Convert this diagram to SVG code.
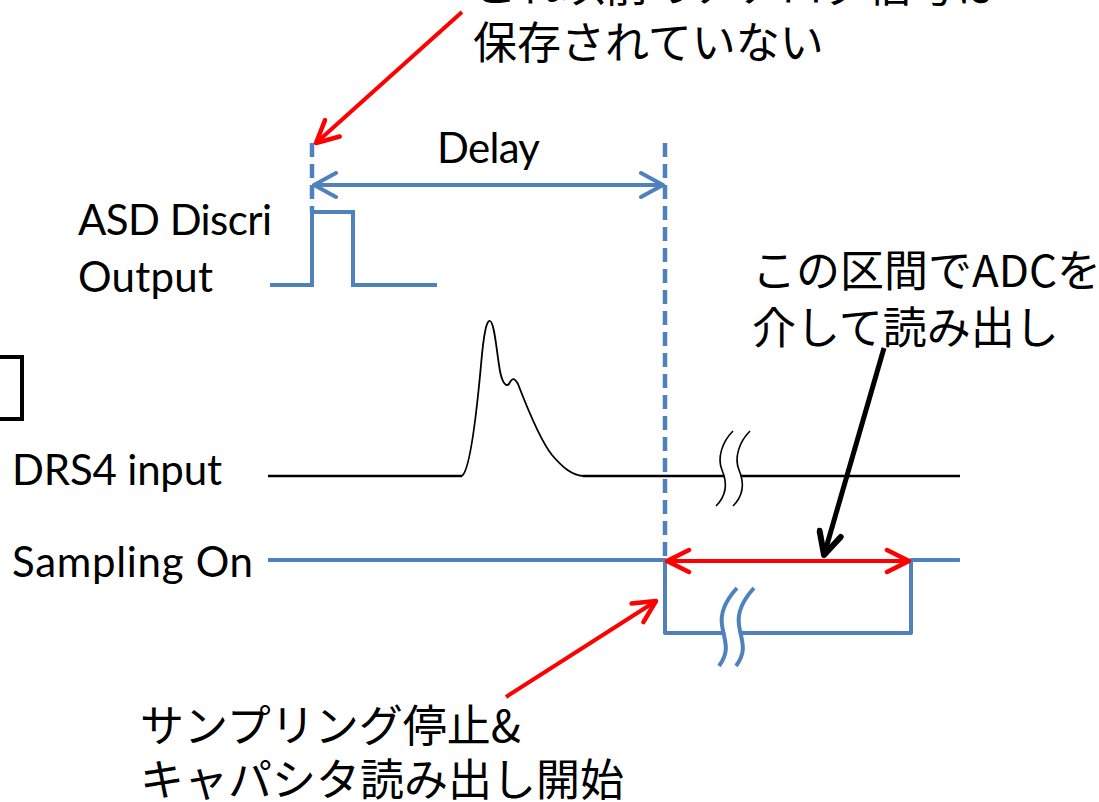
<svg xmlns="http://www.w3.org/2000/svg" width="1099" height="802" viewBox="0 0 1099 802">
<style>
.lat{font-family:Lato,"Liberation Sans",sans-serif;font-size:42px;fill:#000}
.jp{font-family:"Noto Sans CJK JP",sans-serif;font-size:44px;fill:#000}
.blue{stroke:#4F81BD;stroke-width:4;fill:none}
.dash{stroke:#4F81BD;stroke-width:4.5;fill:none;stroke-dasharray:14,7}
.red{stroke:#FF0000;stroke-width:4;fill:none}
.blk{stroke:#000;fill:none}
</style>
<defs>
<marker id="chevB" markerUnits="userSpaceOnUse" viewBox="-26 -14 30 28" refX="0" refY="0" markerWidth="30" markerHeight="28" orient="auto-start-reverse">
<path d="M-22,-12 L0,0 L-22,12" fill="none" stroke="#4F81BD" stroke-width="4" stroke-linecap="round" stroke-linejoin="round"/>
</marker>
<marker id="chevR" markerUnits="userSpaceOnUse" viewBox="-26 -14 30 28" refX="0" refY="0" markerWidth="30" markerHeight="28" orient="auto-start-reverse">
<path d="M-22,-11 L0,0 L-22,11" fill="none" stroke="#FF0000" stroke-width="4.5" stroke-linecap="round" stroke-linejoin="round"/>
</marker>
<marker id="chevK" markerUnits="userSpaceOnUse" viewBox="-26 -14 30 28" refX="0" refY="0" markerWidth="30" markerHeight="28" orient="auto-start-reverse">
<path d="M-22,-11 L0,0 L-22,11" fill="none" stroke="#000" stroke-width="6" stroke-linecap="round" stroke-linejoin="round"/>
</marker>
</defs>

<g id="bracket">
<rect x="-50" y="357" width="72" height="62" fill="none" stroke="#000" stroke-width="4"/>
</g>

<g id="labels">
<text class="jp" x="473" y="2">これ以前のアナログ信号は</text>
<text class="jp" x="473" y="59">保存されていない</text>
<text class="lat" x="437" y="163" textLength="103">Delay</text>
<text class="lat" x="78" y="235" textLength="194">ASD Discri</text>
<text class="lat" x="78" y="292" textLength="135">Output</text>
<text class="lat" x="12" y="485" textLength="210">DRS4 input</text>
<text class="lat" x="12" y="577" textLength="241">Sampling On</text>
<text class="jp" x="752" y="287">この区間でADCを</text>
<text class="jp" x="752" y="344">介して読み出し</text>
<text class="jp" x="140" y="742">サンプリング停止&amp;</text>
<text class="jp" x="140" y="796">キャパシタ読み出し開始</text>
</g>

<g id="asd-signal">
<polyline class="blue" points="270,285 312,285 312,212 353,212 353,285 437,285"/>
</g>

<g id="drs4-signal">
<line class="blk" stroke-width="2.5" x1="268" y1="476" x2="462" y2="476"/>
<path class="blk" stroke-width="1.8" d="M462,476 C470,470 476,420 481,365 C484,330 487,320 490,321 C494,322 496,345 499,365 C501,380 505,388 509,384 C512,378 514,377 518,384 C528,410 540,440 552,455 C563,468 572,475 583,476"/>
<line class="blk" stroke-width="2.5" x1="583" y1="476" x2="960" y2="476"/>
<path d="M741.5,431 C730.5,442 725.5,458 730.5,470 C736.5,484 734.5,496 724.5,506" stroke="#fff" stroke-width="15" fill="none"/>
<path class="blk" stroke-width="1.6" d="M733,431 C722,442 717,458 722,470 C728,484 726,496 716,506"/>
<path class="blk" stroke-width="1.6" d="M750,431 C739,442 734,458 739,470 C745,484 743,496 733,506"/>
</g>

<g id="sampling-signal">
<polyline class="blue" points="268,560 665,560 665,633 911,633 911,560 960,560" stroke-linejoin="round"/>
<path d="M745.5,588 C734.5,600 728.5,612 730.5,625 C732.5,640 739.5,650 727.5,666" stroke="#fff" stroke-width="13" fill="none"/>
<path class="blue" d="M737,588 C726,600 720,612 722,625 C724,640 731,650 719,666"/>
<path class="blue" d="M754,588 C743,600 737,612 739,625 C741,640 748,650 736,666"/>
</g>

<g id="connectors">
<line class="dash" x1="312" y1="143" x2="312" y2="212"/>
<line class="dash" x1="665" y1="143" x2="665" y2="560"/>
<line class="blue" x1="314" y1="185" x2="663" y2="185" marker-start="url(#chevB)" marker-end="url(#chevB)"/>
<line class="red" x1="667" y1="561" x2="909" y2="561" marker-start="url(#chevR)" marker-end="url(#chevR)"/>
<line class="red" x1="462" y1="12" x2="316" y2="143" marker-end="url(#chevR)"/>
<line class="red" x1="506" y1="697" x2="656" y2="601" marker-end="url(#chevR)"/>
<line class="blk" stroke-width="5" x1="884" y1="348" x2="824" y2="555" marker-end="url(#chevK)"/>
</g>
</svg>
